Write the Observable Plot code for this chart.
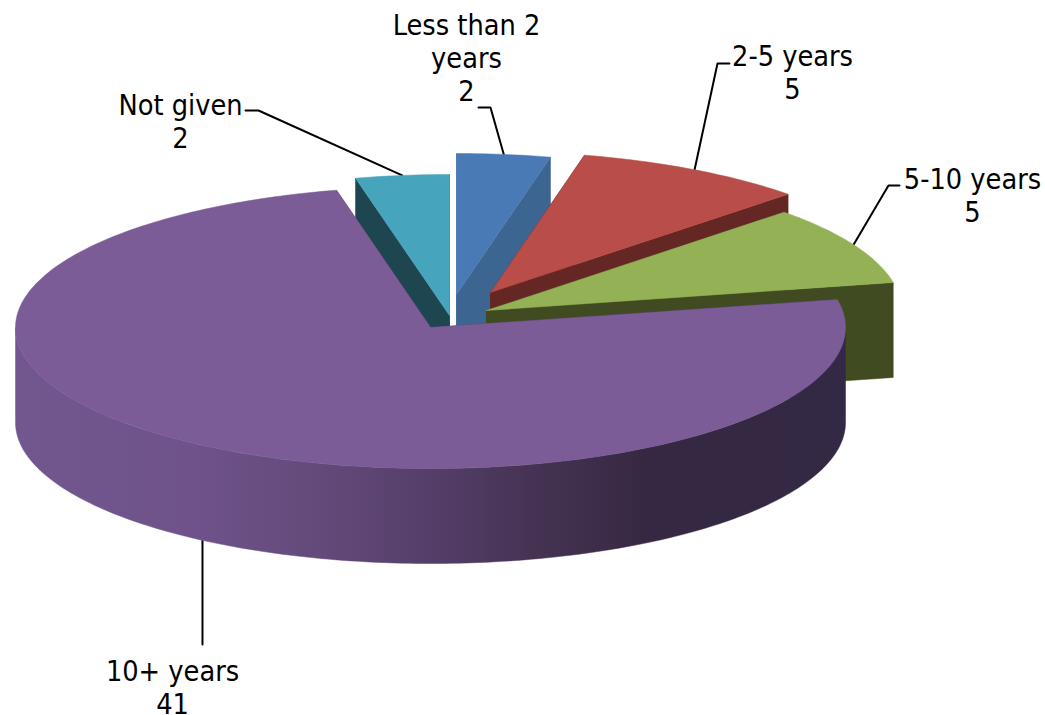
<!DOCTYPE html>
<html>
<head>
<meta charset="utf-8">
<style>
  html, body { margin: 0; padding: 0; background: #fff; }
  svg { display: block; }
</style>
<script src="https://cdn.jsdelivr.net/npm/d3@7"></script>
<script src="https://cdn.jsdelivr.net/npm/@observablehq/plot@0.6"></script>
</head>
<body>
<div id="chart"></div>
<script>
// Years of experience, clockwise from twelve o'clock
const categories = ["Less than 2 years", "2-5 years", "5-10 years", "10+ years", "Not given"];
const values = [2, 5, 5, 41, 2];

// Slice colours: top face and side wall
const topColors = ["#4a7ab5", "#b84d49", "#94b255", "#7b5c96", "#46a4bd"];
const wallColors = ["#3c6591", "#652724", "#414b21", "url(#purpleWall)", "#1e4650"];

// How far each slice is pulled out of the pie
const explodeX = [26, 60, 56, 0, 19];
const explodeY = [-33, -35, -17, 0, -12];

// Painter's order, back to front
const drawOrder = [0, 4, 1, 2, 3];

// Label text lines, position and leader elbow
const labelLines = [["Less than 2", "years"], ["2-5 years"], ["5-10 years"], ["10+ years"], ["Not given"]];
const labelX = [466, 792, 972, 172, 180];
const labelY = [57, 71, 194, 686, 120];
const leaderStartX = [478, 729, 899, 202, 245];
const leaderStartY = [107, 63, 185, 644, 110];
const leaderElbowX = [490, 717, 888, 202, 258];
const leaderElbowY = [107, 63, 185, 644, 110];
const leaderAngleShift = [0, 0, 0, 0.6, 0];

// Pie geometry
const cx = 430, cy = 327, rx = 415, ry = 141, depth = 95;
const rad = Math.PI / 180;

const total = d3.sum(values);
const cumulative = d3.cumsum(values);
const slices = categories.map((name, i) => {
  const a1 = (cumulative[i] / total) * 360;
  const a0 = a1 - (values[i] / total) * 360;
  return {name, a0, a1, ox: cx + explodeX[i], oy: cy + explodeY[i]};
});

const rim = (s, a, drop = 0) => ({
  x: s.ox + rx * Math.sin(a * rad),
  y: s.oy - ry * Math.cos(a * rad) + drop
});
const sweep = (from, to) => {
  const n = Math.max(2, Math.ceil(Math.abs(to - from)));
  return d3.range(n + 1).map((k) => from + ((to - from) * k) / n);
};

// Closed outline of the top face of a slice
const topFace = (s) => {
  const apex = {x: s.ox, y: s.oy};
  return [apex, ...sweep(s.a0, s.a1).map((a) => rim(s, a)), apex];
};

// Walls: cut faces of the wedge and the outer rim where it faces the viewer
const wallFaces = (s) => {
  const cut = (a) => {
    const t = rim(s, a);
    return [{x: s.ox, y: s.oy}, t, {x: t.x, y: t.y + depth}, {x: s.ox, y: s.oy + depth}, {x: s.ox, y: s.oy}];
  };
  const faces = [cut(s.a0), cut(s.a1)];
  const from = Math.max(s.a0, 90), to = Math.min(s.a1, 270);
  if (to > from) {
    const arc = sweep(from, to);
    faces.push([...arc.map((a) => rim(s, a)), ...arc.slice().reverse().map((a) => rim(s, a, depth))]);
  }
  return faces;
};

const polygon = (points, fill) =>
  Plot.line(points, {x: "x", y: "y", fill, stroke: fill, strokeWidth: 0.5, curve: "linear-closed"});

// Horizontal shading of the big slice's rounded wall
const wallGradient = () => {
  const defs = d3.create("svg:defs");
  const g = defs.append("linearGradient")
    .attr("id", "purpleWall")
    .attr("gradientUnits", "userSpaceOnUse")
    .attr("x1", cx - rx).attr("x2", cx + rx)
    .attr("y1", 0).attr("y2", 0);
  [[0, "#72578f"], [0.22, "#6e5289"], [0.36, "#644a7b"], [0.5, "#553e69"], [0.62, "#463354"], [0.76, "#362842"], [1, "#332845"]]
    .forEach(([o, c]) => g.append("stop").attr("offset", o).attr("stop-color", c));
  return defs.node();
};

const pieMarks = drawOrder.flatMap((i) => [
  ...wallFaces(slices[i]).map((f) => polygon(f, wallColors[i])),
  polygon(topFace(slices[i]), topColors[i])
]);

// Leader lines end on the slice's rim at its middle angle
const leaders = slices.map((s, i) => {
  const mid = (s.a0 + s.a1) / 2 + leaderAngleShift[i];
  const front = mid > 90 && mid < 270;
  return [
    {x: leaderStartX[i], y: leaderStartY[i]},
    {x: leaderElbowX[i], y: leaderElbowY[i]},
    rim(s, mid, front ? depth : 0)
  ];
});

const labels = slices.map((s, i) => ({
  x: labelX[i],
  y: labelY[i],
  text: [...labelLines[i], String(values[i])].join("\n")
}));

const chart = Plot.plot({
  width: 1045,
  height: 715,
  margin: 0,
  x: {domain: [0, 1045], range: [0, 1045], axis: null},
  y: {domain: [0, 715], range: [0, 715], axis: null},
  style: {background: "#fff"},
  marks: [
    wallGradient,
    ...leaders.map((l) => Plot.line(l, {x: "x", y: "y", stroke: "#000", strokeWidth: 2})),
    ...pieMarks,
    Plot.text(labels, {
      x: "x",
      y: "y",
      text: "text",
      fontSize: 28.6,
      lineHeight: 1.16,
      fontFamily: "'DejaVu Sans Condensed', 'DejaVu Sans', sans-serif",
      fill: "#000"
    })
  ]
});
document.getElementById("chart").append(chart);
</script>
</body>
</html>
